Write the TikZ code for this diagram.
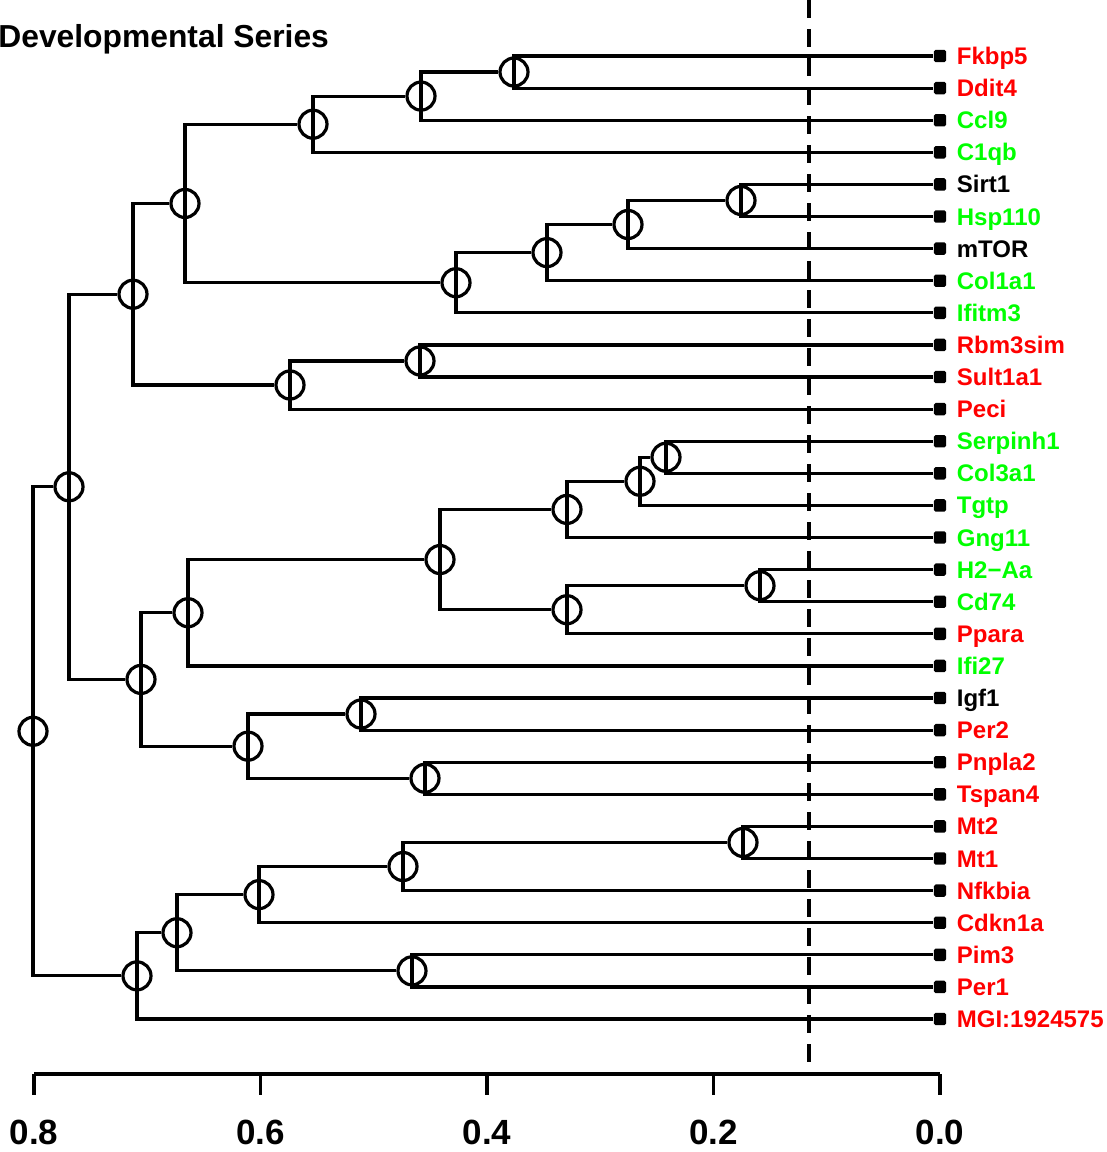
\documentclass[tikz,border=0pt]{standalone}
\usepackage{fontspec}
\setmainfont{Liberation Sans}
\definecolor{upred}{HTML}{FF0000}
\definecolor{dngreen}{HTML}{00FF00}

\begin{document}
\begin{tikzpicture}[x=0.5pt,y=-0.5pt,
  branch/.style={line width=1.6pt},
  junc/.style={circle,draw,line width=1.6pt,minimum size=14pt,inner sep=0pt},
  leafmark/.style={fill,rectangle,minimum size=6.2pt,inner sep=0pt,rounded corners=0.9pt},
  gene/.style={anchor=base west,inner sep=0pt,font=\fontsize{12}{12}\selectfont\bfseries},
  cutline/.style={line width=1.6pt,dash pattern=on 9pt off 5.5pt}]

  \useasboundingbox (0,0) rectangle (1107,1152);

  % ---- title ----
  \node[anchor=base west,inner sep=0pt,font=\fontsize{15.9}{16}\selectfont\bfseries]
        (title) at (-2,47) {Developmental Series};

  % ---- cut height ----
  \draw[cutline] (809,0) -- (809,1074);

  % ---- leaves: marker + gene name ----
  \foreach \n/\t/\c [count=\i from 0] in {
      fkbp5/Fkbp5/upred, ddit4/Ddit4/upred, ccl9/Ccl9/dngreen, c1qb/C1qb/dngreen,
      sirt1/Sirt1/black, hsp110/Hsp110/dngreen, mtor/mTOR/black, col1a1/Col1a1/dngreen,
      ifitm3/Ifitm3/dngreen, rbm3sim/Rbm3sim/upred, sult1a1/Sult1a1/upred, peci/Peci/upred,
      serpinh1/Serpinh1/dngreen, col3a1/Col3a1/dngreen, tgtp/Tgtp/dngreen, gng11/Gng11/dngreen,
      h2aa/H2−Aa/dngreen, cd74/Cd74/dngreen, ppara/Ppara/upred, ifi27/Ifi27/dngreen,
      igf1/Igf1/black, per2/Per2/upred, pnpla2/Pnpla2/upred, tspan4/Tspan4/upred,
      mt2/Mt2/upred, mt1/Mt1/upred, nfkbia/Nfkbia/upred, cdkn1a/Cdkn1a/upred,
      pim3/Pim3/upred, per1/Per1/upred, mgi/MGI:1924575/upred} {
    \pgfmathsetmacro\yy{56+32.1*\i}
    \node[leafmark] (\n) at (940,\yy) {};
    \node[gene,text=\c] (\n-name) at (956.5,\yy+8.5) {\t};
  }

  % ---- merge points (x from height, y midway between children) ----
  \node[junc] (a)  at (514,72.05)  {};
  \node[junc] (b)  at (421,96.1)   {};
  \node[junc] (c)  at (313,124.2)  {};
  \node[junc] (d)  at (741,200.45) {};
  \node[junc] (e)  at (628,224.5)  {};
  \node[junc] (f)  at (547,252.6)  {};
  \node[junc] (g)  at (456,282.7)  {};
  \node[junc] (h)  at (185,203.45) {};
  \node[junc] (i)  at (420,360.95) {};
  \node[junc] (j)  at (290,385)    {};
  \node[junc] (k)  at (133,294.2)  {};
  \node[junc] (l)  at (666,457.25) {};
  \node[junc] (m)  at (640,481.3)  {};
  \node[junc] (n)  at (567,509.4)  {};
  \node[junc] (o)  at (760,585.65) {};
  \node[junc] (p)  at (567,609.7)  {};
  \node[junc] (q)  at (440,559.55) {};
  \node[junc] (r)  at (188,612.7)  {};
  \node[junc] (s)  at (361,714.05) {};
  \node[junc] (t)  at (425,778.25) {};
  \node[junc] (u)  at (248,746.15) {};
  \node[junc] (v)  at (141,679.4)  {};
  \node[junc] (w)  at (69,486.8)   {};
  \node[junc] (x)  at (743,842.45) {};
  \node[junc] (y)  at (403,866.5)  {};
  \node[junc] (z)  at (259,894.6)  {};
  \node[junc] (aa) at (412,970.85) {};
  \node[junc] (ab) at (177,932.7)  {};
  \node[junc] (ac) at (137,975.85) {};
  \node[junc] (root) at (33,731.3) {};

  % ---- elbow branches ----
  \foreach \p/\k in {a/fkbp5, a/ddit4, b/a.west, b/ccl9, c/b.west, c/c1qb,
      d/sirt1, d/hsp110, e/d.west, e/mtor, f/e.west, f/col1a1, g/f.west, g/ifitm3,
      h/c.west, h/g.west, i/rbm3sim, i/sult1a1, j/i.west, j/peci, k/h.west, k/j.west,
      l/serpinh1, l/col3a1, m/l.west, m/tgtp, n/m.west, n/gng11,
      o/h2aa, o/cd74, p/o.west, p/ppara, q/n.west, q/p.west, r/q.west, r/ifi27,
      s/igf1, s/per2, t/pnpla2, t/tspan4, u/s.west, u/t.west, v/r.west, v/u.west,
      w/k.west, w/v.west,
      x/mt2, x/mt1, y/x.west, y/nfkbia, z/y.west, z/cdkn1a, aa/pim3, aa/per1,
      ab/z.west, ab/aa.west, ac/ab.west, ac/mgi, root/w.west, root/ac.west}
    \draw[branch] (\p.center) |- (\k);

  % ---- height axis ----
  \draw[branch] (34,1074) -- (940,1074);
  \foreach \v [count=\i from 0] in {0.8,0.6,0.4,0.2,0.0} {
    \draw[branch] (34+226.5*\i,1074) -- (34+226.5*\i,1095);
    \node[anchor=base,inner sep=0pt,font=\fontsize{17.5}{18}\selectfont\bfseries]
          (tick\i) at (34+226.5*\i,1144) {\v};
  }

\end{tikzpicture}
\end{document}
